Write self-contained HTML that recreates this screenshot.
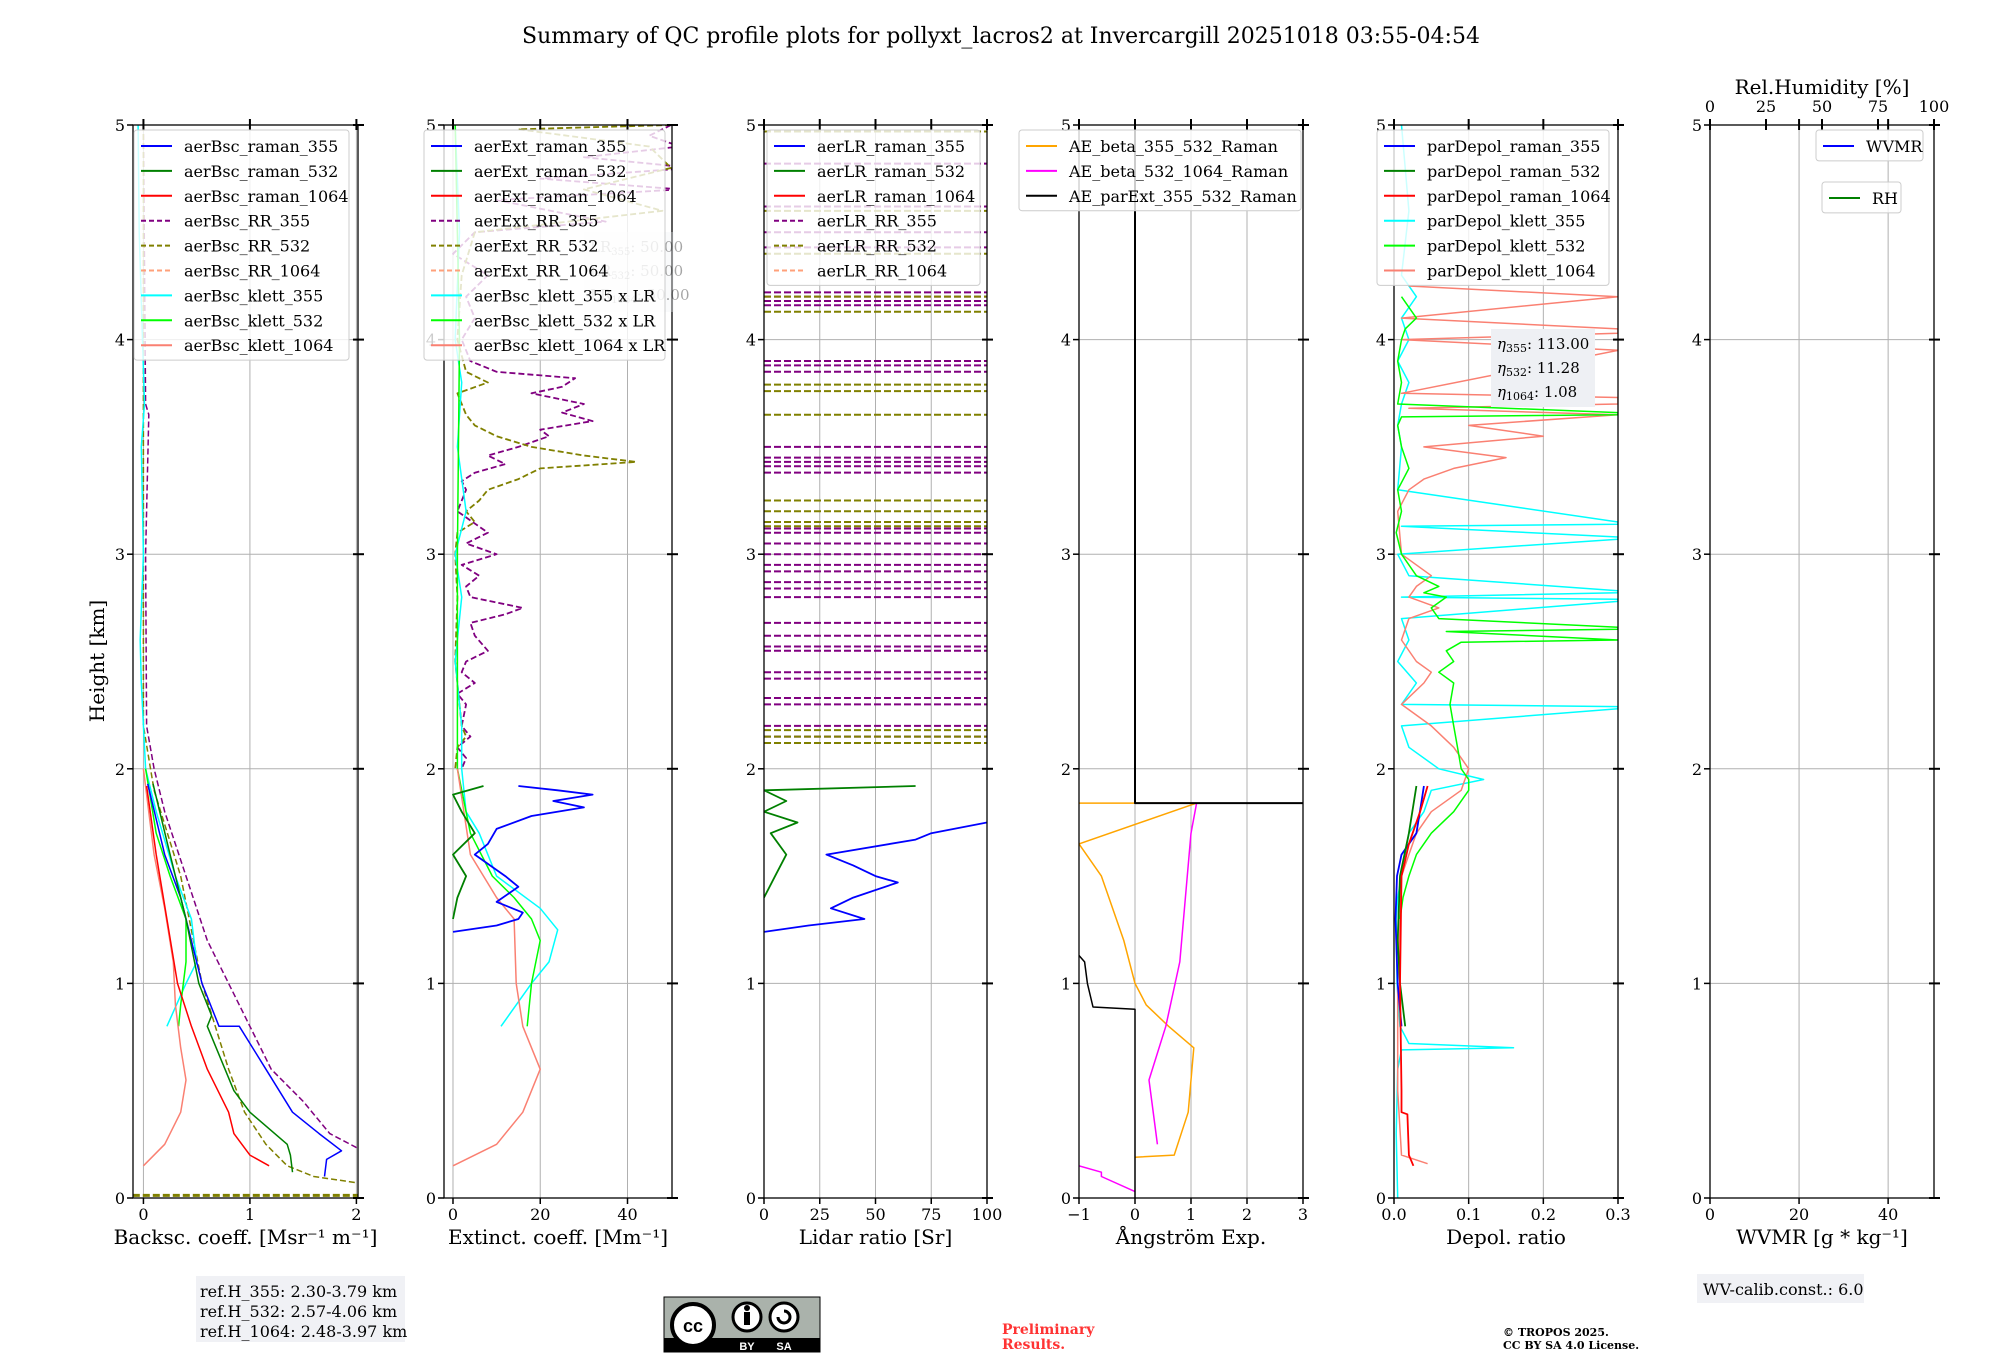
<!DOCTYPE html>
<html><head><meta charset="utf-8"><title>QC profile plots</title>
<style>
html,body{margin:0;padding:0;background:#fff;}
svg{display:block;font-family:"DejaVu Serif","Liberation Serif",serif;}
</style></head>
<body>
<svg id="fig" xmlns="http://www.w3.org/2000/svg" width="2000" height="1360" viewBox="0 0 2000 1360">
<rect width="2000" height="1360" fill="#fff"/>
<text x="1001" y="43" font-size="22" text-anchor="middle">Summary of QC profile plots for pollyxt_lacros2 at Invercargill 20251018 03:55-04:54</text>
<g id="plots"></g>
<g>
<rect x="196" y="1276" width="209" height="66" fill="#f0f1f5"/>
<text x="200" y="1297" font-size="16">ref.H_355: 2.30-3.79 km</text>
<text x="200" y="1317" font-size="16">ref.H_532: 2.57-4.06 km</text>
<text x="200" y="1337" font-size="16">ref.H_1064: 2.48-3.97 km</text>
</g>
<g>
<rect x="664" y="1297" width="156" height="55" fill="#aab2ab" stroke="#000" stroke-width="1"/>
<rect x="664" y="1338" width="156" height="14" fill="#000"/>
<circle cx="693" cy="1325" r="21" fill="#fff" stroke="#000" stroke-width="4"/>
<text x="693" y="1332" font-size="18" font-weight="bold" text-anchor="middle" font-family="Liberation Sans,sans-serif">cc</text>
<circle cx="747" cy="1317" r="14" fill="#fff" stroke="#000" stroke-width="3"/>
<rect x="744" y="1312" width="6" height="13" fill="#000"/><circle cx="747" cy="1308" r="3" fill="#000"/>
<circle cx="784" cy="1317" r="14" fill="#fff" stroke="#000" stroke-width="3"/>
<path d="M778 1317 a6 6 0 1 0 6 -6" fill="none" stroke="#000" stroke-width="3"/>
<text x="747" y="1350" font-size="11" fill="#fff" font-weight="bold" text-anchor="middle" font-family="Liberation Sans,sans-serif">BY</text>
<text x="784" y="1350" font-size="11" fill="#fff" font-weight="bold" text-anchor="middle" font-family="Liberation Sans,sans-serif">SA</text>
</g>
<g>
<text x="1002" y="1334" font-size="14" font-weight="bold" fill="#ff3333">Preliminary</text>
<text x="1002" y="1349" font-size="14" font-weight="bold" fill="#ff3333">Results.</text>
</g>
<g>
<text x="1503" y="1336" font-size="11" font-weight="bold">© TROPOS 2025.</text>
<text x="1503" y="1349" font-size="11" font-weight="bold">CC BY SA 4.0 License.</text>
</g>
<g>
<rect x="1697" y="1274" width="167" height="29" fill="#f0f1f5"/>
<text x="1703" y="1295" font-size="16">WV-calib.const.: 6.0</text>
</g>
</svg>
<script>
// ---------- DATA ----------
const bscRaman355H=[1.93,1.6,1.4,1.0,0.8,0.8,0.6,0.4,0.3,0.22,0.18,0.1];
const bscRaman355V=[0.04,0.2,0.35,0.55,0.71,0.9,1.15,1.4,1.65,1.86,1.72,1.7];
const bscRaman532H=[1.93,1.6,1.3,1.0,0.85,0.8,0.5,0.4,0.25,0.2,0.12];
const bscRaman532V=[0.09,0.25,0.4,0.52,0.64,0.6,0.85,1.0,1.35,1.38,1.4];
const bscRaman1064H=[1.92,1.6,1.3,1.0,0.8,0.6,0.4,0.3,0.2,0.15];
const bscRaman1064V=[0.03,0.12,0.22,0.32,0.45,0.6,0.8,0.85,1.0,1.18];
const bscRR355H=[5,3.7,3.65,3.0,2.2,2.0,1.8,1.5,1.2,1.0,0.8,0.6,0.45,0.3,0.23];
const bscRR355V=[0,0.02,0.05,0.02,0.03,0.1,0.2,0.4,0.6,0.8,1.0,1.2,1.5,1.75,2.02];
const bscRR532H=[5,2.2,1.9,1.5,1.0,0.6,0.4,0.25,0.15,0.1,0.07];
const bscRR532V=[0,0.0,0.1,0.35,0.55,0.8,0.95,1.15,1.35,1.6,2.02];
const bscRR532LowH=[0.012,0.012];
const bscRR532LowV=[-0.1,2.02];
const bscKlett355H=[5,4.5,3.7,3.5,3.0,2.6,2.4,2.0,1.8,1.5,1.3,1.1,1.0,0.8];
const bscKlett355V=[-0.05,-0.04,0.01,-0.02,0.0,-0.03,-0.02,0.02,0.12,0.3,0.45,0.5,0.4,0.22];
const bscKlett532H=[2.0,1.7,1.5,1.3,1.1,0.9,0.8];
const bscKlett532V=[0.02,0.12,0.25,0.4,0.4,0.35,0.33];
const bscKlett1064H=[2.0,1.6,1.35,1.1,0.9,0.7,0.55,0.4,0.25,0.15];
const bscKlett1064V=[0.0,0.1,0.2,0.28,0.3,0.35,0.4,0.35,0.2,0.0];

const extRaman355H=[1.92,1.9,1.88,1.85,1.82,1.78,1.72,1.65,1.6,1.5,1.45,1.38,1.33,1.3,1.27,1.24];
const extRaman355V=[15,24,32,23,30,18,10,8,5,12,15,10,16,15,10,0];
const extRaman532H=[1.92,1.88,1.8,1.7,1.6,1.5,1.4,1.3];
const extRaman532V=[7,0,2,5,0,3,1,0];
const extRR355H=[5.0,4.95,4.9,4.85,4.8,4.75,4.7,4.65,4.55,4.5,4.4,4.3,4.2,4.1,4.0,3.9,3.85,3.82,3.78,3.75,3.7,3.66,3.62,3.58,3.55,3.5,3.46,3.42,3.38,3.34,3.3,3.2,3.1,3.05,3.0,2.95,2.9,2.85,2.8,2.75,2.72,2.68,2.62,2.55,2.5,2.45,2.4,2.35,2.3,2.2,2.15,2.1,2.05,2.0];
const extRR355V=[50,45,52,30,55,20,52,10,35,5,0,8,3,5,2,4,10,28,25,18,30,25,32,20,22,15,8,12,5,2,3,1,8,3,10,2,6,3,4,16,12,4,5,8,3,2,5,1,3,2,4,1,3,2];
const extRR532H=[5.0,4.98,4.9,4.8,4.7,4.6,4.5,4.3,4.0,3.85,3.8,3.75,3.65,3.6,3.55,3.5,3.46,3.43,3.4,3.35,3.3,3.25,3.2,3.15,3.1,3.0,2.8,2.5,2.2,2.15,2.1,2.0];
const extRR532V=[50,15,45,50,30,48,5,2,1,3,8,1,3,5,10,18,30,42,20,15,8,6,3,5,1,0.5,1,0.5,2,3,1,0.5];
const extKlett355H=[5,4.5,4.0,3.8,3.5,3.2,3.0,2.8,2.5,2.2,2.0,1.8,1.7,1.5,1.35,1.25,1.1,1.0,0.8];
const extKlett355V=[0.5,1.5,0.5,2,1,3,0.5,2,0.5,2,2,3,6,10,20,24,22,18,11];
const extKlett532H=[5,4.0,3.0,2.0,1.7,1.5,1.4,1.3,1.2,1.0,0.8];
const extKlett532V=[0.5,1.5,1,1,4,9,14,18,20,18,17];
const extKlett1064H=[2.0,1.6,1.4,1.3,1.0,0.8,0.6,0.4,0.25,0.15];
const extKlett1064V=[1,4,10,14,14.5,16,20,16,10,0];

const lrRaman355H=[1.75,1.7,1.67,1.6,1.55,1.5,1.47,1.4,1.35,1.3,1.27,1.24];
const lrRaman355V=[100,75,68,28,40,50,60,40,30,45,20,0];
const lrRaman532H=[1.92,1.9,1.85,1.8,1.75,1.7,1.6,1.5,1.4];
const lrRaman532V=[68,0,10,0,15,3,10,5,0];
const lrRR355Spikes=[4.82,4.62,4.5,4.43,4.22,4.2,4.18,4.16,3.9,3.88,3.85,3.5,3.45,3.43,3.41,3.38,3.12,3.1,3.05,3.0,2.95,2.92,2.87,2.84,2.8,2.68,2.62,2.57,2.55,2.45,2.42,2.33,2.3,2.2,2.15];
const lrRR532Spikes=[4.97,4.6,4.4,4.13,4.2,3.79,3.76,3.65,3.25,3.2,3.15,3.13,2.18,2.15,2.12];

const aeBeta355532H=[1.84,1.84,1.65,1.5,1.2,1.0,0.9,0.8,0.7,0.4,0.2,0.19];
const aeBeta355532V=[-1,1.1,-1,-0.6,-0.2,0,0.2,0.6,1.05,0.95,0.7,0.0];
const aeBeta5321064H=[1.84,1.7,1.4,1.1,0.8,0.55,0.45,0.25];
const aeBeta5321064V=[1.1,1.0,0.9,0.8,0.55,0.25,0.3,0.4];
const aeBeta5321064LowH=[0.15,0.12,0.1,0.03];
const aeBeta5321064LowV=[-1,-0.6,-0.6,0];
const aeParExtH=[5,1.84,1.84];
const aeParExtV=[0,0,3];
const aeParExtLowH=[1.13,1.1,1.0,0.89,0.88,0];
const aeParExtLowV=[-1,-0.9,-0.85,-0.75,0,0];

const dpRaman355H=[1.92,1.85,1.7,1.6,1.5,1.3,1.0,0.8];
const dpRaman355V=[0.04,0.037,0.03,0.01,0.004,0.002,0.005,0.01];
const dpRaman532H=[1.92,1.7,1.5,1.2,1.0,0.8];
const dpRaman532V=[0.03,0.02,0.008,0.005,0.008,0.015];
const dpRaman1064H=[1.92,1.8,1.65,1.5,1.0,0.5,0.4,0.39,0.2,0.15];
const dpRaman1064V=[0.045,0.035,0.02,0.01,0.008,0.01,0.01,0.018,0.02,0.026];
const dpKlett355H=[5,4.6,4.3,4.2,4.1,4.0,3.9,3.8,3.7,3.6,3.5,3.3,3.15,3.14,3.13,3.08,3.07,3.0,2.9,2.83,2.82,2.8,2.79,2.78,2.7,2.6,2.5,2.4,2.3,2.29,2.28,2.2,2.1,2.0,1.95,1.9,1.8,1.7,1.6,1.5,1.4,1.3,1.0,0.8,0.72,0.7,0.69,0.6,0.3,0];
const dpKlett355V=[0.01,0.02,0.01,0.03,0.01,0.02,0.005,0.02,0.01,0.005,0.01,0.005,0.3,0.3,0.01,0.3,0.3,0.005,0.02,0.3,0.3,0.01,0.3,0.3,0.01,0.02,0.005,0.03,0.01,0.3,0.3,0.01,0.02,0.06,0.12,0.05,0.04,0.02,0.015,0.01,0.005,0.003,0.004,0.008,0.02,0.16,0.01,0.005,0.003,0.005];
const dpKlett532H=[4.2,4.1,4.05,4.0,3.9,3.8,3.7,3.66,3.65,3.64,3.6,3.5,3.4,3.3,3.2,3.1,3.0,2.9,2.85,2.82,2.8,2.75,2.7,2.66,2.65,2.64,2.6,2.59,2.55,2.5,2.45,2.4,2.3,2.2,2.1,2.0,1.95,1.9,1.8,1.7,1.6,1.5,1.4,1.3];
const dpKlett532V=[0.01,0.03,0.015,0.01,0.005,0.01,0.005,0.3,0.3,0.01,0.005,0.01,0.02,0.005,0.01,0.003,0.01,0.03,0.06,0.04,0.07,0.05,0.06,0.3,0.3,0.07,0.3,0.09,0.07,0.08,0.06,0.08,0.075,0.08,0.085,0.09,0.1,0.1,0.08,0.05,0.03,0.02,0.012,0.008];
const dpKlett1064H=[4.25,4.2,4.1,4.05,4.03,4.0,3.95,3.75,3.73,3.7,3.68,3.65,3.6,3.55,3.5,3.45,3.4,3.35,3.3,3.2,3.0,2.9,2.85,2.8,2.75,2.7,2.6,2.5,2.45,2.4,2.3,2.2,2.1,2.0,1.9,1.8,1.7,1.6,1.5,1.0,0.5,0.2,0.16];
const dpKlett1064V=[0.02,0.3,0.01,0.3,0.3,0.01,0.3,0.01,0.3,0.3,0.02,0.3,0.1,0.2,0.04,0.15,0.08,0.04,0.02,0.005,0.01,0.05,0.03,0.02,0.06,0.02,0.01,0.03,0.05,0.04,0.01,0.05,0.08,0.1,0.09,0.05,0.03,0.02,0.01,0.005,0.005,0.01,0.045];

const yTicks=[0,1,2,3,4,5];
const xTicksBsc=[0,1,2];
const xTicksExt=[0,20,40];
const xTicksLR=[0,25,50,75,100];
const xTicksAE=[-1,0,1,2,3];
const xTickLabelsAE=["\u22121","0","1","2","3"];
const xTicksDp=[0,0.1,0.2,0.3];
const xTickLabelsDp=["0.0","0.1","0.2","0.3"];
const xTicksWV=[0,20,40];
const xTicksRH=[0,25,50,75,100];

// ---------- RENDER ----------
const NS="http://www.w3.org/2000/svg";
const root=document.getElementById('plots');
const Y0=1198,Y5=125;
function yS(h){return Y0+(Y5-Y0)*h/5;}
function mk(tag,attrs,parent){const e=document.createElementNS(NS,tag);for(const k in attrs)e.setAttribute(k,attrs[k]);(parent||root).appendChild(e);return e;}
const panels=[
 {x0:133,x1:358,lo:-0.098,hi:2.015,ticks:xTicksBsc,labels:null,label:'Backsc. coeff. [Msr\u207B\u00B9 m\u207B\u00B9]'},
 {x0:444,x1:672,lo:-2.06,hi:50.2,ticks:xTicksExt,labels:null,label:'Extinct. coeff. [Mm\u207B\u00B9]'},
 {x0:764,x1:987,lo:0,hi:100,ticks:xTicksLR,labels:null,label:'Lidar ratio [Sr]'},
 {x0:1079,x1:1303,lo:-1,hi:3,ticks:xTicksAE,labels:xTickLabelsAE,label:'\u00C5ngstr\u00F6m Exp.'},
 {x0:1394,x1:1618,lo:0,hi:0.3,ticks:xTicksDp,labels:xTickLabelsDp,label:'Depol. ratio'},
 {x0:1710,x1:1934,lo:0,hi:50.3,ticks:xTicksWV,labels:null,label:'WVMR [g * kg\u207B\u00B9]'}
];
function xS(p,v){return p.x0+(p.x1-p.x0)*(v-p.lo)/(p.hi-p.lo);}
const names=['backscatter','extinction','lidar-ratio','angstrom','depol','wvmr'];
const groups=[];
panels.forEach((p,i)=>{
  const g=mk('g',{});
  
  
  groups.push(g);
  const cp=mk('clipPath',{id:'clip'+i},g);
  mk('rect',{x:p.x0,y:Y5,width:p.x1-p.x0,height:Y0-Y5},cp);
  p.ticks.forEach(t=>{const x=xS(p,t);const l=mk('line',{x1:x,x2:x,y1:Y5,y2:Y0,stroke:'#b0b0b0','stroke-width':1},g);});
  yTicks.forEach(t=>{const y=yS(t);const l=mk('line',{x1:p.x0,x2:p.x1,y1:y,y2:y,stroke:'#b0b0b0','stroke-width':1},g);});
  p.g=mk('g',{'clip-path':'url(#clip'+i+')'},g);
  
  
});
function series(pi,H,V,color,dash,w,name){
  const p=panels[pi];const n=Math.min(H.length,V.length);let d='';
  for(let i=0;i<n;i++){d+=(i?'L':'M')+xS(p,V[i]).toFixed(1)+' '+yS(H[i]).toFixed(1);}
  const e=mk('path',{d:d,fill:'none',stroke:color,'stroke-width':w||1.5,'stroke-linejoin':'round'},p.g);
  if(dash)e.setAttribute('stroke-dasharray',dash);
  
  
}
function spikes(pi,Hs,color,name){
  const p=panels[pi];
  Hs.forEach(h=>{const y=yS(h);const e=mk('line',{x1:p.x0,x2:p.x1,y1:y,y2:y,stroke:color,'stroke-width':2,'stroke-dasharray':'7,3'},p.g);
    
    });
}
const D='6,3';
series(0,bscRR355H,bscRR355V,'#800080',D,1.5,'aerBsc-RR-355-line');
series(0,bscRR532H,bscRR532V,'#808000',D,1.5,'aerBsc-RR-532-line');
series(0,bscRR532LowH,bscRR532LowV,'#808000','7,3',3,'aerBsc-RR-532-low-line');
series(0,bscKlett355H,bscKlett355V,'#00ffff',null,1.5,'aerBsc-klett-355-line');
series(0,bscKlett532H,bscKlett532V,'#00ff00',null,1.5,'aerBsc-klett-532-line');
series(0,bscKlett1064H,bscKlett1064V,'#fa8072',null,1.5,'aerBsc-klett-1064-line');
series(0,bscRaman355H,bscRaman355V,'#0000ff',null,1.5,'aerBsc-raman-355-line');
series(0,bscRaman532H,bscRaman532V,'#008000',null,1.5,'aerBsc-raman-532-line');
series(0,bscRaman1064H,bscRaman1064V,'#ff0000',null,1.5,'aerBsc-raman-1064-line');
series(1,extRR355H,extRR355V,'#800080',D,1.8,'aerExt-RR-355-line');
series(1,extRR532H,extRR532V,'#808000',D,1.8,'aerExt-RR-532-line');
series(1,extKlett355H,extKlett355V,'#00ffff',null,1.5,'aerBsc-klett-355-x-LR-line');
series(1,extKlett532H,extKlett532V,'#00ff00',null,1.5,'aerBsc-klett-532-x-LR-line');
series(1,extKlett1064H,extKlett1064V,'#fa8072',null,1.5,'aerBsc-klett-1064-x-LR-line');
series(1,extRaman355H,extRaman355V,'#0000ff',null,1.8,'aerExt-raman-355-line');
series(1,extRaman532H,extRaman532V,'#008000',null,1.8,'aerExt-raman-532-line');
spikes(2,lrRR355Spikes,'#800080','aerLR-RR-355-line');
spikes(2,lrRR532Spikes,'#808000','aerLR-RR-532-line');
series(2,lrRaman355H,lrRaman355V,'#0000ff',null,1.8,'aerLR-raman-355-line');
series(2,lrRaman532H,lrRaman532V,'#008000',null,1.8,'aerLR-raman-532-line');
series(3,aeBeta355532H,aeBeta355532V,'#ffa500',null,1.5,'AE-beta-355-532-line');
series(3,aeBeta5321064H,aeBeta5321064V,'#ff00ff',null,1.5,'AE-beta-532-1064-line');
series(3,aeBeta5321064LowH,aeBeta5321064LowV,'#ff00ff',null,1.5,'AE-beta-532-1064-low-line');
series(3,aeParExtH,aeParExtV,'#000000',null,2,'AE-parExt-355-532-line');
series(3,aeParExtLowH,aeParExtLowV,'#000000',null,1.5,'AE-parExt-355-532-low-line');
series(4,dpKlett355H,dpKlett355V,'#00ffff',null,1.5,'parDepol-klett-355-line');
series(4,dpKlett1064H,dpKlett1064V,'#fa8072',null,1.5,'parDepol-klett-1064-line');
series(4,dpKlett532H,dpKlett532V,'#00ff00',null,1.5,'parDepol-klett-532-line');
series(4,dpRaman355H,dpRaman355V,'#0000ff',null,1.8,'parDepol-raman-355-line');
series(4,dpRaman532H,dpRaman532V,'#008000',null,1.8,'parDepol-raman-532-line');
series(4,dpRaman1064H,dpRaman1064V,'#ff0000',null,1.8,'parDepol-raman-1064-line');

panels.forEach((p,i)=>{
  const g=groups[i];
  const fr=mk('rect',{x:p.x0,y:Y5,width:p.x1-p.x0,height:Y0-Y5,fill:'none',stroke:'#000','stroke-width':1.3},g);
  
  yTicks.forEach(t=>{const y=yS(t);
    mk('line',{x1:p.x0-6,x2:p.x0,y1:y,y2:y,stroke:'#000','stroke-width':1.5},g);
    mk('line',{x1:p.x1-5,x2:p.x1+6,y1:y,y2:y,stroke:'#000','stroke-width':2},g);
    const tx=mk('text',{x:p.x0-8,y:y+6,'font-size':16,'text-anchor':'end'},g);tx.textContent=String(t);
    
  });
  p.ticks.forEach((t,k)=>{const x=xS(p,t);
    mk('line',{x1:x,x2:x,y1:Y0,y2:Y0+6,stroke:'#000','stroke-width':1.5},g);
    mk('line',{x1:x,x2:x,y1:Y5-6,y2:Y5+5,stroke:'#000','stroke-width':2},g);
    const tx=mk('text',{x:x,y:Y0+22,'font-size':16,'text-anchor':'middle'},g);tx.textContent=p.labels?p.labels[k]:String(t);
    
  });
  const xl=mk('text',{x:(p.x0+p.x1)/2,y:1244,'font-size':20,'text-anchor':'middle'},g);xl.textContent=p.label;
  
});
const p6=panels[5];
xTicksRH.forEach(t=>{const x=p6.x0+(p6.x1-p6.x0)*t/100;
  const tx=mk('text',{x:x,y:112,'font-size':16,'text-anchor':'middle'},groups[5]);tx.textContent=String(t);
  
  mk('line',{x1:x,x2:x,y1:Y5-6,y2:Y5+5,stroke:'#000','stroke-width':2},groups[5]);
});
const rhT=mk('text',{x:1822,y:94,'font-size':20,'text-anchor':'middle'},groups[5]);rhT.textContent='Rel.Humidity [%]';

const yl=mk('text',{x:0,y:0,'font-size':20,'text-anchor':'middle',transform:'translate(104,661) rotate(-90)'});yl.textContent='Height [km]';


function infoBox(x,y,w,h,lines,op,name){
  const g=mk('g',{});
  mk('rect',{x:x,y:y,width:w,height:h,fill:'#eef0f4',opacity:op},g);
  lines.forEach((L,i)=>{const t=mk('text',{x:x+6,y:y+20+i*24,'font-size':15,opacity:op},g);t.innerHTML=L;});
}
infoBox(584,232,90,80,['LR<tspan font-size="10" dy="3">355</tspan><tspan dy="-3">: 50.00</tspan>','LR<tspan font-size="10" dy="3">532</tspan><tspan dy="-3">: 50.00</tspan>','LR<tspan font-size="10" dy="3">1064</tspan><tspan dy="-3">: 50.00</tspan>'],0.35,'lr-info-box');
infoBox(1491,329,104,78,['<tspan font-style="italic">η</tspan><tspan font-size="11" dy="3">355</tspan><tspan dy="-3">: 113.00</tspan>','<tspan font-style="italic">η</tspan><tspan font-size="11" dy="3">532</tspan><tspan dy="-3">: 11.28</tspan>','<tspan font-style="italic">η</tspan><tspan font-size="11" dy="3">1064</tspan><tspan dy="-3">: 1.08</tspan>'],1,'eta-info-box');

const lgBsc=[['aerBsc_raman_355','#0000ff',0],['aerBsc_raman_532','#008000',0],['aerBsc_raman_1064','#ff0000',0],['aerBsc_RR_355','#800080',1],['aerBsc_RR_532','#808000',1],['aerBsc_RR_1064','#ffa07a',1],['aerBsc_klett_355','#00ffff',0],['aerBsc_klett_532','#00ff00',0],['aerBsc_klett_1064','#fa8072',0]];
const lgExt=[['aerExt_raman_355','#0000ff',0],['aerExt_raman_532','#008000',0],['aerExt_raman_1064','#ff0000',0],['aerExt_RR_355','#800080',1],['aerExt_RR_532','#808000',1],['aerExt_RR_1064','#ffa07a',1],['aerBsc_klett_355 x LR','#00ffff',0],['aerBsc_klett_532 x LR','#00ff00',0],['aerBsc_klett_1064 x LR','#fa8072',0]];
const lgLR=[['aerLR_raman_355','#0000ff',0],['aerLR_raman_532','#008000',0],['aerLR_raman_1064','#ff0000',0],['aerLR_RR_355','#800080',1],['aerLR_RR_532','#808000',1],['aerLR_RR_1064','#ffa07a',1]];
const lgAE=[['AE_beta_355_532_Raman','#ffa500',0],['AE_beta_532_1064_Raman','#ff00ff',0],['AE_parExt_355_532_Raman','#000000',0]];
const lgDp=[['parDepol_raman_355','#0000ff',0],['parDepol_raman_532','#008000',0],['parDepol_raman_1064','#ff0000',0],['parDepol_klett_355','#00ffff',0],['parDepol_klett_532','#00ff00',0],['parDepol_klett_1064','#fa8072',0]];
const lgWV=[['WVMR','#0000ff',0]];
const lgRH=[['RH','#008000',0]];
function legend(x,y,w,entries,name){
  const g=mk('g',{});
  const h=entries.length*24.9+6;
  mk('rect',{x:x,y:y,width:w,height:h,rx:3,fill:'#fff','fill-opacity':0.8,stroke:'#cccccc','stroke-width':1},g);
  entries.forEach((e,i)=>{const cy=y+16+i*24.9;
    const ln=mk('line',{x1:x+7,x2:x+38,y1:cy,y2:cy,stroke:e[1],'stroke-width':2},g);
    if(e[2])ln.setAttribute('stroke-dasharray','5,3');
    const t=mk('text',{x:x+50,y:cy+6,'font-size':16},g);t.textContent=e[0];
    
  });
}
legend(134,130,215,lgBsc,'backscatter-legend');
legend(424,130,241,lgExt,'extinction-legend');
legend(767,130,213,lgLR,'lidar-ratio-legend');
legend(1019,130,282,lgAE,'angstrom-legend');
legend(1377,130,232,lgDp,'depol-legend');
legend(1816,130,107,lgWV,'wvmr-legend');
legend(1822,182,79,lgRH,'rh-legend');
</script>
</body></html>
